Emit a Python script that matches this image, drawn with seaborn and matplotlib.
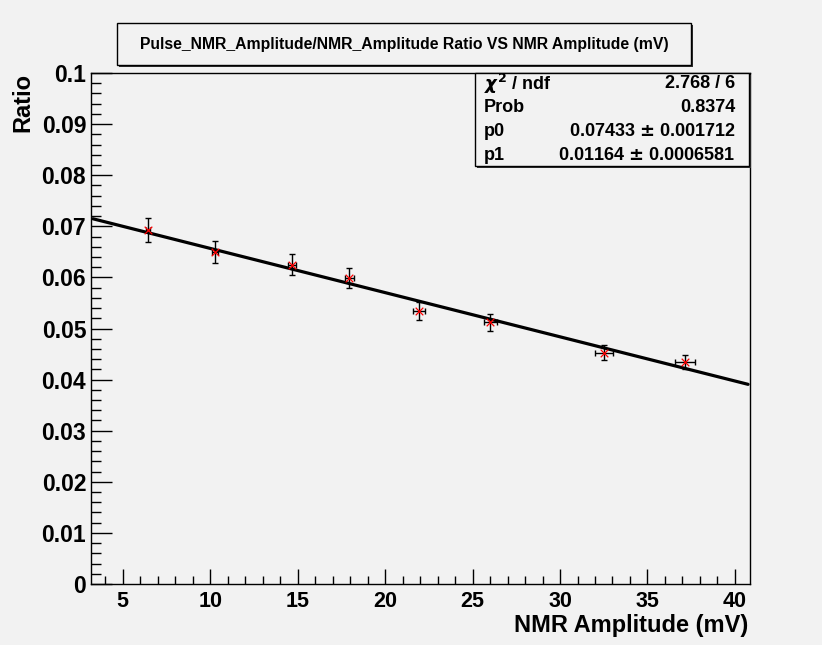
import numpy as np
import pandas as pd
import matplotlib
matplotlib.use("Agg")
import matplotlib.pyplot as plt
from matplotlib.patches import Rectangle
from matplotlib.ticker import MultipleLocator, FixedLocator
import seaborn as sns

# Measured points: NMR amplitude (mV) vs pulse/NMR amplitude ratio
amplitude = [6.45, 10.30, 14.70, 17.96, 21.94, 26.00, 32.52, 37.15]
amplitude_err = [0.10, 0.17, 0.23, 0.26, 0.33, 0.37, 0.50, 0.59]
ratio = [0.0693, 0.0650, 0.0625, 0.0599, 0.0534, 0.0512, 0.0453, 0.0434]
ratio_err = [0.0024, 0.0022, 0.0021, 0.0019, 0.0017, 0.0017, 0.0015, 0.0014]

# Fit results: ratio = p0 * (1 - p1 * amplitude)
p0, p0_err = 0.07433, 0.001712
p1, p1_err = 0.01164, 0.0006581
chi2, ndf, prob = 2.768, 6, 0.8374
fit_range = [3.3, 40.75]

x_ticks = [5, 10, 15, 20, 25, 30, 35, 40]
y_ticks = [0, 0.01, 0.02, 0.03, 0.04, 0.05, 0.06, 0.07, 0.08, 0.09, 0.1]
y_tick_labels = ["0", "0.01", "0.02", "0.03", "0.04", "0.05", "0.06", "0.07", "0.08", "0.09", "0.1"]

sns.set_theme(style="ticks")
plt.rcParams["font.family"] = ["Liberation Sans", "DejaVu Sans"]
plt.rcParams["font.weight"] = "bold"
plt.rcParams["text.color"] = "black"
plt.rcParams["axes.labelcolor"] = "black"
plt.rcParams["xtick.color"] = "black"
plt.rcParams["ytick.color"] = "black"
plt.rcParams["xtick.labelcolor"] = "black"
plt.rcParams["ytick.labelcolor"] = "black"

bg = "#f2f2f2"
W, H = 822, 645
fig = plt.figure(figsize=(W / 100, H / 100), dpi=100, facecolor=bg)
ax = fig.add_axes([91 / W, 1 - 584 / H, (750 - 91) / W, (584 - 73) / H], facecolor=bg)

df = pd.DataFrame({"amp": amplitude, "ratio": ratio})
fit_x = np.linspace(fit_range[0], fit_range[1], 200)
fit_df = pd.DataFrame({"amp": fit_x, "ratio": p0 * (1 - p1 * fit_x)})

ax.errorbar(amplitude, ratio, xerr=amplitude_err, yerr=ratio_err, fmt="none",
            ecolor="black", elinewidth=1.0, capsize=2.2, capthick=1.0, zorder=2)
sns.lineplot(data=fit_df, x="amp", y="ratio", color="black", linewidth=2.3, ax=ax, zorder=3)
sns.scatterplot(data=df, x="amp", y="ratio", marker="x", color="red", s=30,
                linewidth=0.9, ax=ax, zorder=4)

ax.set_xlim(3.19, 40.86)
ax.set_ylim(0, 0.1)
ax.xaxis.set_major_locator(FixedLocator(x_ticks))
ax.xaxis.set_minor_locator(MultipleLocator(1))
ax.yaxis.set_major_locator(FixedLocator(y_ticks))
ax.yaxis.set_minor_locator(MultipleLocator(0.002))
ax.set_yticklabels(y_tick_labels)
ax.tick_params(axis="both", which="both", direction="in", color="black", width=1.0,
               labelcolor="black")
ax.tick_params(axis="x", which="major", length=11, labelsize=15.5, pad=5)
ax.tick_params(axis="x", which="minor", length=5.5)
ax.tick_params(axis="y", which="major", length=15, labelsize=16.5, pad=3.5)
ax.tick_params(axis="y", which="minor", length=7.5)
for lab in ax.get_xticklabels() + ax.get_yticklabels():
    lab.set_fontweight("bold")
for sp in ax.spines.values():
    sp.set_color("black")
    sp.set_linewidth(1.0)

ax.set_xlabel("NMR Amplitude (mV)", fontsize=17, fontweight="bold", loc="right", color="black")
ax.xaxis.set_label_coords(0.997, -0.059)
ax.set_ylabel("Ratio", fontsize=17, fontweight="bold", loc="top", color="black")
ax.yaxis.set_label_coords(-0.0865, 1.0)

# Title box with drop shadow
def shadow_box(x0, y0, x1, y1, zorder=5):
    sh = Rectangle((x0 / W + 2 / W, 1 - y1 / H - 2 / H), (x1 - x0) / W, (y1 - y0) / H,
                   transform=fig.transFigure, facecolor="#303030", edgecolor="none", zorder=zorder)
    box = Rectangle((x0 / W, 1 - y1 / H), (x1 - x0) / W, (y1 - y0) / H,
                    transform=fig.transFigure, facecolor=bg, edgecolor="black", linewidth=1.0,
                    zorder=zorder + 1)
    fig.add_artist(sh)
    fig.add_artist(box)

shadow_box(117, 23, 691, 65)
fig.text(404 / W, 1 - 44 / H, "Pulse_NMR_Amplitude/NMR_Amplitude Ratio VS NMR Amplitude (mV)",
         ha="center", va="center", fontsize=11.3, fontweight="bold", color="black", zorder=10)

# Fit statistics box
shadow_box(475, 73, 749, 166)
rows = [
    (r"$\chi^{2}$ / ndf", f"{chi2:.3f} / {ndf}"),
    ("Prob", f"{prob:.4f}"),
    ("p0", f"{p0:.5f} $\\pm$ {p0_err:.6f}"),
    ("p1", f"{p1:.5f} $\\pm$ {p1_err:.7f}"),
]
row_y = [84, 108, 132, 155]
for (name, val), yy in zip(rows, row_y):
    fig.text(484 / W, 1 - yy / H, name, ha="left", va="center", fontsize=13,
             fontweight="bold", color="black", zorder=10)
    fig.text(735 / W, 1 - yy / H, val, ha="right", va="center", fontsize=13,
             fontweight="bold", color="black", zorder=10)

fig.savefig("out.png", dpi=100, facecolor=bg)
